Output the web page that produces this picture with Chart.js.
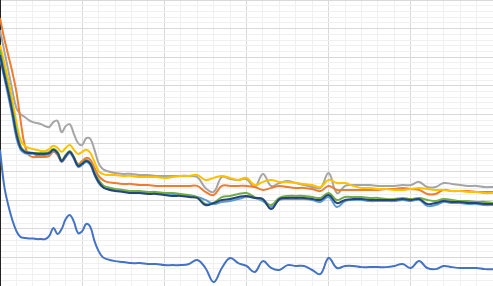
<!DOCTYPE html>
<html>
<head>
<meta charset="utf-8">
<script src="https://cdn.jsdelivr.net/npm/chart.js@4/dist/chart.umd.min.js"></script>
<style>
  html, body { margin: 0; padding: 0; background: #fff; }
  #wrap { width: 493px; height: 286px; position: relative; }
</style>
</head>
<body>
<div id="wrap"><canvas id="c"></canvas></div>
<script>
const xValues = [0,0.5,1,1.5,2,2.5,3,3.5,4,4.5,5,5.5,6,6.5,7,7.5,8,8.5,9,9.5,10,10.5,11,11.5,12,12.5,13,
  14,15,16,17,18,19,20,21,22,23,24,25,26,27,28,29,30,31,32,33,34,35,36,37,38,39,40,41,42,43,44,45,46,47,48,49,50,51,52,53,54,55,56,57,58,59,60];

const seriesBlue = [47.6,35.3,28.3,23.1,19.2,17.1,16.8,16.6,16.6,16.4,16.4,16.4,17.5,20.3,18.2,19.9,23.4,24.8,22.4,18.5,19.2,21.7,20.6,15.7,12.2,10.1,9.4,
  8.7,8.4,8.0,8.0,7.7,7.7,7.3,7.3,7.3,7.7,9.1,6.3,1.4,6.3,9.8,8.0,7.0,4.9,8.7,6.3,5.6,7.3,7.0,7.0,5.6,4.2,9.8,6.3,7.0,7.0,6.6,6.6,6.6,6.6,7.0,7.7,6.3,8.7,6.3,5.9,7.0,6.6,6.3,6.3,6.3,5.9,5.9];

const seriesGray = [89.5,82.5,75.5,68.5,62.2,60.1,59.1,58.0,57.3,57.0,56.6,55.9,55.6,57.3,57.7,53.8,55.9,56.6,53.1,50.0,49.3,51.7,51.4,47.6,43.0,40.9,40.2,
  39.5,39.2,39.2,38.8,38.8,38.5,38.5,38.5,38.5,38.5,38.1,34.3,32.9,38.1,37.4,37.1,37.4,34.6,39.2,35.0,36.0,36.7,36.0,35.3,34.6,34.3,39.5,32.5,35.0,35.3,35.3,35.3,35.0,35.0,35.0,35.3,35.3,36.4,34.6,34.6,36.0,35.7,35.3,35.0,35.0,34.6,34.6];

const seriesOrange = [93.7,86.7,80.8,74.8,67.8,58.0,49.3,45.8,45.1,45.1,45.1,45.1,45.5,46.9,45.8,43.4,45.1,46.5,44.8,42.7,43.7,44.8,44.1,41.3,38.5,37.1,36.4,
  36.0,35.7,35.7,35.3,35.3,35.0,35.0,35.0,35.0,35.0,35.0,32.9,31.8,35.0,35.0,35.0,35.0,34.6,33.6,34.3,35.0,34.6,34.3,34.3,33.9,33.2,35.0,33.6,33.6,33.6,33.6,33.6,33.6,33.9,33.9,34.3,33.9,33.6,32.2,32.2,33.6,33.2,33.2,33.2,32.9,32.9,32.9];

const seriesYellow = [84.3,78.3,72.0,65.0,57.3,51.0,49.0,48.3,47.9,47.6,47.2,47.2,47.9,49.0,48.3,46.9,48.3,49.3,47.6,46.2,46.9,47.6,46.5,43.4,40.2,39.2,38.8,
  38.8,38.5,38.5,38.1,38.1,38.1,37.8,38.1,38.5,38.5,38.8,37.1,37.8,38.5,37.8,37.1,37.8,35.3,36.4,37.1,36.4,36.4,36.0,35.7,35.3,34.6,37.1,36.0,36.0,35.0,34.3,34.3,33.9,33.9,33.6,33.6,33.9,34.3,33.9,33.6,33.6,33.2,33.2,32.9,32.9,32.5,32.5];

const seriesLightBlue = [79.7,73.1,66.4,59.4,51.7,47.6,46.5,46.2,46.2,45.8,45.8,45.8,46.2,47.2,46.2,43.4,45.1,46.5,44.4,41.6,42.3,43.4,42.3,38.8,36.0,34.6,33.9,
  33.6,33.2,32.9,32.9,32.5,32.5,32.2,32.2,31.8,31.5,31.1,30.1,28.7,29.4,29.7,30.4,31.1,30.8,29.7,27.6,30.1,30.4,30.4,30.4,30.1,29.4,31.1,27.6,29.7,30.1,30.1,29.7,29.7,29.7,29.7,30.1,29.7,30.1,28.0,28.3,29.4,29.0,29.0,28.7,28.7,28.3,28.3];

const seriesGreen = [82.5,75.5,69.2,62.2,54.5,49.0,47.2,46.9,46.5,46.5,46.5,46.5,46.9,47.9,46.9,44.1,45.8,47.2,45.1,42.3,43.0,44.1,43.0,39.9,37.1,35.3,34.6,
  33.9,33.6,33.2,33.2,32.9,32.9,32.5,32.5,32.2,31.8,31.1,28.7,29.0,31.1,31.5,32.2,32.5,31.1,30.1,28.3,30.8,31.5,31.5,31.5,31.1,30.8,32.5,30.1,31.1,31.1,31.1,30.8,30.8,30.4,30.4,30.8,30.4,30.8,30.1,29.7,30.4,30.1,29.7,29.7,29.4,29.4,29.0];

const seriesNavy = [80.8,74.1,67.8,60.8,53.1,48.3,46.9,46.5,46.5,46.2,46.2,46.2,46.5,47.6,46.5,43.7,45.5,46.9,44.8,42.0,42.7,43.7,42.7,39.2,36.4,34.6,33.9,
  33.2,32.9,32.5,32.5,32.2,32.2,31.8,31.5,31.5,31.1,30.8,28.3,29.0,30.1,30.4,31.1,31.5,30.8,30.4,26.9,30.4,30.8,30.8,30.8,30.4,30.1,31.8,29.0,30.1,30.4,30.4,30.1,30.1,30.1,30.1,30.4,30.1,30.4,28.7,29.0,29.7,29.4,29.4,29.0,29.0,28.7,28.7];

function pts(arr) { return arr.map((v, i) => ({ x: xValues[i], y: v })); }

const seriesDefs = [
  { data: seriesBlue, color: '#4472C4', order: 7 },
  { data: seriesGray, color: '#A5A5A5', order: 6 },
  { data: seriesOrange, color: '#ED7D31', order: 5 },
  { data: seriesYellow, color: '#FFC000', order: 4 },
  { data: seriesLightBlue, color: '#5B9BD5', order: 3 },
  { data: seriesGreen, color: '#70AD47', order: 2 },
  { data: seriesNavy, color: '#264478', order: 1 }
];

const gridColor = ctx => (Math.round(ctx.tick.value * 10) % 100 === 0) ? '#d9d9d9' : '#f0f0f0';

new Chart(document.getElementById('c'), {
  type: 'line',
  data: {
    datasets: seriesDefs.map(s => ({
      data: pts(s.data),
      borderColor: s.color,
      backgroundColor: s.color,
      borderWidth: 2,
      pointRadius: 0,
      tension: 0.4,
      fill: false,
      order: s.order
    }))
  },
  options: {
    responsive: true,
    maintainAspectRatio: false,
    animation: false,
    layout: { padding: 0 },
    plugins: { legend: { display: false }, tooltip: { enabled: false } },
    scales: {
      x: {
        type: 'linear', min: 0, max: 60,
        ticks: { display: false, stepSize: 2 },
        grid: { color: gridColor, drawTicks: false, lineWidth: 1 },
        border: { display: false }
      },
      y: {
        type: 'linear', min: 0, max: 100,
        ticks: { display: false, stepSize: 2 },
        grid: { color: gridColor, drawTicks: false, lineWidth: 1 },
        border: { display: true, color: '#222', width: 2 }
      }
    }
  }
});
</script>
</body>
</html>
